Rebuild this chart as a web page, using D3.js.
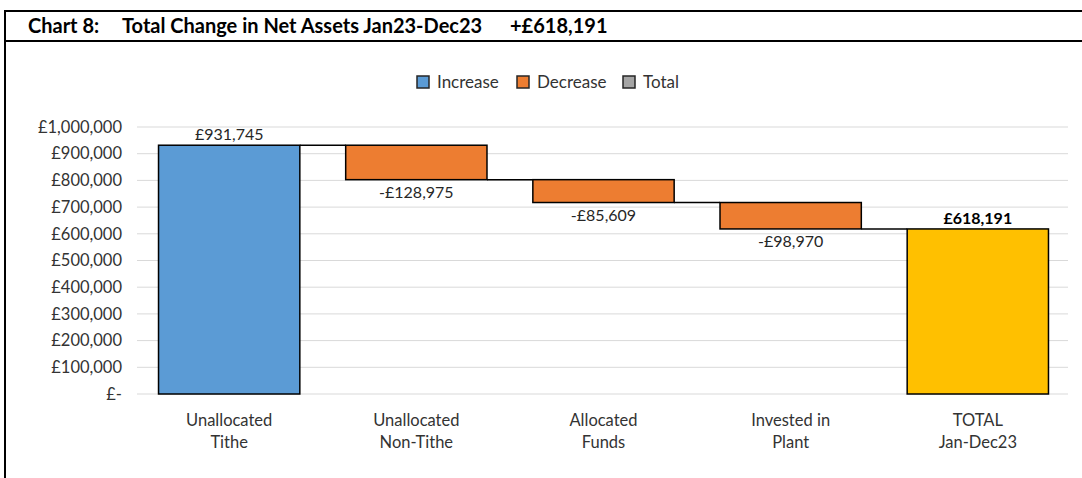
<!DOCTYPE html>
<html>
<head>
<meta charset="utf-8">
<script src="https://cdn.jsdelivr.net/npm/d3@7"></script>
<style>
  body { margin: 0; background: #fff; }
  svg { display: block; font-family: Lato, "Open Sans", sans-serif; }
</style>
</head>
<body>
<svg id="chart" width="1082" height="478"></svg>
<script>
// chart data
var categories = [["Unallocated","Tithe"],["Unallocated","Non-Tithe"],["Allocated","Funds"],["Invested in","Plant"],["TOTAL","Jan-Dec23"]];
var changes = [931745, -128975, -85609, -98970, 618191];
var kinds = ["inc","dec","dec","dec","total"];
var valueLabels = ["£931,745","-£128,975","-£85,609","-£98,970","£618,191"];
var yTicks = [0,100000,200000,300000,400000,500000,600000,700000,800000,900000,1000000];
var legendNames = ["Increase","Decrease","Total"];
var titleParts = ["Chart 8:","Total Change in Net Assets Jan23-Dec23","+£618,191"];

var colors = { inc: "#5b9bd5", dec: "#ed7d31", total: "#ffc000" };
var legendColors = ["#5b9bd5","#ed7d31","#a5a5a5"];

var svg = d3.select("#chart");

// frame + title
svg.append("line").attr("x1",5).attr("x2",1082).attr("y1",11).attr("y2",11).style("stroke","#000").style("stroke-width",2);
svg.append("line").attr("x1",5).attr("x2",1082).attr("y1",41).attr("y2",41).style("stroke","#000").style("stroke-width",2);
svg.append("line").attr("x1",5).attr("x2",5).attr("y1",10).attr("y2",478).style("stroke","#000").style("stroke-width",2);
var titleX = [28, 122, 510];
svg.append("g").selectAll("text").data(titleParts).enter().append("text")
  .attr("x",function(d,i){ return titleX[i]; }).attr("y",33)
  .style("font-weight","bold").style("font-size","20px").style("fill","#000")
  .text(function(d){ return d; });

// compute waterfall
var running = 0;
var bars = changes.map(function(v,i) {
  var d = { i: i, kind: kinds[i], label: valueLabels[i] };
  if (kinds[i] == "total") { d.y0 = 0; d.y1 = v; running = v; }
  else { d.y0 = running; d.y1 = running + v; running = running + v; }
  return d;
});

var x = d3.scaleBand().domain(d3.range(categories.length)).range([137, 1070]).paddingInner(0.245).paddingOuter(0.115);
var y = d3.scaleLinear().domain([0, 1000000]).range([394, 127]);

// grid
svg.append("g").selectAll("line").data(yTicks).enter().append("line")
  .attr("x1",137).attr("x2",1068)
  .attr("y1",function(d){ return y(d); }).attr("y2",function(d){ return y(d); })
  .style("stroke","#d9d9d9").style("stroke-width",1);

// y axis
var yAxis = d3.axisLeft(y).tickValues(yTicks).tickSize(0).tickPadding(0)
  .tickFormat(function(d){ return d == 0 ? "£-" : "£" + d3.format(",")(d); });
var ga = svg.append("g").attr("transform","translate(122,0)").call(yAxis);
ga.select(".domain").remove();
ga.selectAll("text").style("font-family","Lato, 'Open Sans', sans-serif").style("font-size","16.5px").style("fill","#333");

// connectors
svg.append("g").selectAll("line").data(bars.slice(0,-1)).enter().append("line")
  .attr("x1",function(d){ return x(d.i) + x.bandwidth(); })
  .attr("x2",function(d){ return x(d.i+1); })
  .attr("y1",function(d){ return y(d.y1); }).attr("y2",function(d){ return y(d.y1); })
  .style("stroke","#000").style("stroke-width",1.5);

// bars
svg.append("g").selectAll("rect").data(bars).enter().append("rect")
  .attr("x",function(d){ return x(d.i); })
  .attr("width",x.bandwidth())
  .attr("y",function(d){ return y(Math.max(d.y0,d.y1)); })
  .attr("height",function(d){ return Math.abs(y(d.y0) - y(d.y1)); })
  .style("fill",function(d){ return colors[d.kind]; })
  .style("stroke","#000").style("stroke-width",1.5);

// value labels
svg.append("g").selectAll("text").data(bars).enter().append("text")
  .attr("x",function(d){ return x(d.i) + x.bandwidth()/2; })
  .attr("y",function(d){ return d.kind == "dec" ? y(d.y1) + 18 : y(d.y1) - 5; })
  .attr("text-anchor","middle")
  .style("font-size","16px")
  .style("font-weight",function(d){ return d.kind == "total" ? "bold" : "normal"; })
  .style("fill",function(d){ return d.kind == "total" ? "#000" : "#262626"; })
  .text(function(d){ return d.label; });

// category labels
var cat = svg.append("g").selectAll("text").data(categories).enter().append("text")
  .attr("x",function(d,i){ return x(i) + x.bandwidth()/2; })
  .attr("y",426).attr("text-anchor","middle").style("font-size","16.5px").style("fill","#333");
cat.append("tspan").attr("x",function(d,i){ return x(i) + x.bandwidth()/2; }).text(function(d){ return d[0]; });
cat.append("tspan").attr("x",function(d,i){ return x(i) + x.bandwidth()/2; }).attr("dy",22).text(function(d){ return d[1]; });

// legend
var legX = [417, 517, 623];
var leg = svg.append("g").selectAll("g").data(legendNames).enter().append("g")
  .attr("transform",function(d,i){ return "translate(" + legX[i] + ",76)"; });
leg.append("rect").attr("width",12).attr("height",12)
  .style("fill",function(d,i){ return legendColors[i]; }).style("stroke","#262626").style("stroke-width",1.5);
leg.append("text").attr("x",20).attr("y",12).style("font-size","17px").style("fill","#333").text(function(d){ return d; });
</script>
</body>
</html>
